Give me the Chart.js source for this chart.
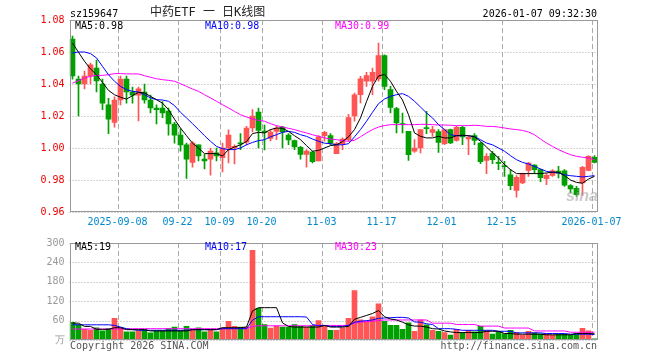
<!DOCTYPE html>
<html>
<head>
<meta charset="utf-8">
<script src="https://cdn.jsdelivr.net/npm/chart.js@4/dist/chart.umd.min.js"></script>
<style>
body { margin: 0; background: #fff; }
#wrap { position: relative; width: 660px; height: 360px; overflow: hidden; font-family: "DejaVu Sans Mono", monospace; font-size: 10px; }
#wrap .t { position: absolute; white-space: nowrap; line-height: 12px; }
canvas { position: absolute; left: 0; }
</style>
</head>
<body>
<div id="wrap">
  <canvas id="kline" width="660" height="232" style="top:0"></canvas>
  <canvas id="vol" width="660" height="128" style="top:232px"></canvas>
  <div class="t" style="left:70px;top:8px;color:#000">sz159647</div>
  <div class="t" style="left:150px;top:5px;font-size:12px;line-height:14px;color:#222;font-family:'DejaVu Sans Mono','Noto Sans CJK SC',monospace">中药ETF 一 日K线图</div>
  <div class="t" style="right:63px;top:8px;color:#000">2026-01-07 09:32:30</div>
  <div class="t" style="left:75px;top:19.5px;color:#000">MA5:0.98</div>
  <div class="t" style="left:205px;top:19.5px;color:#0000ff">MA10:0.98</div>
  <div class="t" style="left:335px;top:19.5px;color:#ff00ff">MA30:0.99</div>
  <div class="t" style="left:75px;top:240.5px;color:#000">MA5:19</div>
  <div class="t" style="left:205px;top:240.5px;color:#0000ff">MA10:17</div>
  <div class="t" style="left:335px;top:240.5px;color:#ff00ff">MA30:23</div>
  <div class="t" style="left:70px;top:339.5px;color:#555">Copyright 2026 SINA.COM</div>
  <div class="t" style="right:63px;top:339.5px;color:#555">http://finance.sina.com.cn</div>
  <div class="t" style="left:566px;top:187px;font:italic bold 16px 'Liberation Sans',sans-serif;line-height:18px;color:rgba(160,160,160,0.55)">sina</div>
</div>
<script>
// trading days shown
var dates = [
  '2025-08-27','2025-08-28','2025-08-29',
  '2025-09-01','2025-09-02','2025-09-03','2025-09-04','2025-09-05',
  '2025-09-08','2025-09-09','2025-09-10','2025-09-11','2025-09-12',
  '2025-09-15','2025-09-16','2025-09-17','2025-09-18','2025-09-19',
  '2025-09-22','2025-09-23','2025-09-24','2025-09-25','2025-09-26',
  '2025-09-29','2025-09-30',
  '2025-10-09','2025-10-10',
  '2025-10-13','2025-10-14','2025-10-15','2025-10-16','2025-10-17',
  '2025-10-20','2025-10-21','2025-10-22','2025-10-23','2025-10-24',
  '2025-10-27','2025-10-28','2025-10-29','2025-10-30','2025-10-31',
  '2025-11-03','2025-11-04','2025-11-05','2025-11-06','2025-11-07',
  '2025-11-10','2025-11-11','2025-11-12','2025-11-13','2025-11-14',
  '2025-11-17','2025-11-18','2025-11-19','2025-11-20','2025-11-21',
  '2025-11-24','2025-11-25','2025-11-26','2025-11-27','2025-11-28',
  '2025-12-01','2025-12-02','2025-12-03','2025-12-04','2025-12-05',
  '2025-12-08','2025-12-09','2025-12-10','2025-12-11','2025-12-12',
  '2025-12-15','2025-12-16','2025-12-17','2025-12-18','2025-12-19',
  '2025-12-22','2025-12-23','2025-12-24','2025-12-25','2025-12-26',
  '2025-12-29','2025-12-30','2025-12-31',
  '2026-01-05','2026-01-06','2026-01-07'
];
var tickDates = ['2025-09-08','2025-09-22','2025-10-09','2025-10-20','2025-11-03','2025-11-17','2025-12-01','2025-12-15','2026-01-07'];
var tickLabels = ['2025-09-08','09-22','10-09','10-20','11-03','11-17','12-01','12-15','2026-01-07'];

var openP = [
  1.068,1.043,1.040,1.045,1.050,1.040,1.027,1.016,1.030,1.043,
  1.035,1.033,1.035,1.030,1.025,1.025,1.023,1.015,1.008,1.002,
  0.991,1.002,0.993,0.993,0.997,0.994,1.000,1.000,1.0033,1.0037,
  1.0125,1.0225,1.0105,1.006,1.0104,1.013,1.008,1.0046,1.0004,0.996,
  0.9975,0.992,1.0077,1.0077,0.9965,1.0025,1.0052,1.020,1.0333,1.0417,
  1.0417,1.0431,1.0577,1.0365,1.0246,1.0148,1.0104,0.998,1.000,1.0125,
  1.0098,1.0102,1.0027,1.0115,1.0048,1.0129,1.0056,1.0077,1.0031,0.9923,
  0.9965,0.9908,0.9887,0.9833,0.9735,0.9781,0.986,0.9894,0.9865,0.9808,
  0.9829,0.9856,0.9858,0.9765,0.9748,0.9781,0.986,0.9942
];
var highP = [
  1.070,1.045,1.048,1.053,1.055,1.043,1.031,1.032,1.045,1.045,
  1.038,1.038,1.040,1.033,1.027,1.029,1.025,1.016,1.012,1.003,
  1.004,1.002,0.996,1.000,1.000,1.003,1.0113,1.002,1.009,1.0135,
  1.024,1.025,1.0144,1.0115,1.014,1.0135,1.009,1.005,1.001,0.999,
  0.998,1.0077,1.0104,1.009,1.0035,1.0063,1.021,1.0344,1.0448,1.0473,
  1.050,1.0656,1.0583,1.0385,1.0254,1.0219,1.0104,1.0052,1.0115,1.0229,
  1.0135,1.0115,1.0119,1.0119,1.0135,1.0135,1.0073,1.009,1.0035,0.9965,
  0.9979,0.9948,0.9917,0.9865,0.9827,0.9844,0.991,0.9896,0.9869,0.984,
  0.9865,0.9885,0.9865,0.9771,0.976,0.9885,0.9952,0.9952
];
var lowP = [
  1.043,1.020,1.037,1.040,1.035,1.024,1.009,1.013,1.027,1.028,
  1.028,1.017,1.028,1.022,1.015,1.019,1.008,1.003,0.998,0.981,
  0.988,0.992,0.987,0.983,0.992,0.985,0.9906,0.990,0.999,1.002,
  1.010,1.000,0.9988,1.0045,1.0052,1.000,1.0021,0.999,0.993,0.988,
  0.9906,0.992,1.0042,1.002,0.9965,0.999,1.0042,1.0167,1.0281,1.0385,
  1.0333,1.0417,1.0365,1.0219,1.0094,1.0094,0.9923,0.9973,0.9969,1.009,
  1.0073,0.9973,1.0021,1.0027,1.0042,1.0021,0.9958,1.0021,0.9902,0.984,
  0.9902,0.9865,0.9823,0.974,0.9692,0.9777,0.9823,0.984,0.979,0.9771,
  0.9823,0.9813,0.976,0.9719,0.9698,0.9704,0.9856,0.9906
];
var closeP = [
  1.045,1.040,1.045,1.052,1.042,1.028,1.018,1.030,1.043,1.035,
  1.033,1.037,1.030,1.025,1.024,1.022,1.015,1.008,1.002,0.993,
  1.003,0.995,0.992,0.998,0.995,1.000,1.008,1.001,1.0025,1.0125,
  1.020,1.011,1.0098,1.010,1.0125,1.010,1.005,1.0006,0.996,0.998,
  0.9915,1.007,1.0098,1.003,1.0027,1.0056,1.019,1.0333,1.0433,1.0452,
  1.0473,1.0577,1.0385,1.0254,1.0156,1.0146,0.9958,1.000,1.0115,1.0121,
  1.0115,1.0035,1.0115,1.0031,1.0129,1.0069,1.0067,1.0048,0.9915,0.9948,
  0.9927,0.9904,0.9883,0.9765,0.9817,0.984,0.9906,0.9865,0.9815,0.9829,
  0.9858,0.9842,0.9767,0.9744,0.9708,0.9879,0.9948,0.991
];
var ma5 = [
  1.0656,1.0598,1.0542,1.0494,1.0458,1.041,1.036,1.0333,1.0317,1.0306,
  1.0327,1.0348,1.0344,1.0323,1.0302,1.028,1.024,1.018,1.0125,1.0077,
  1.003,1.000,0.9965,0.9965,0.9965,0.995,0.999,1.0006,1.002,1.004,
  1.009,1.0098,1.0094,1.0115,1.0125,1.0123,1.0104,1.0077,1.0052,1.0015,
  0.998,0.9985,1.000,1.0015,1.002,1.004,1.007,1.0115,1.0188,1.029,
  1.0385,1.045,1.046,1.0417,1.0354,1.030,1.0208,1.0094,1.0073,1.0063,
  1.0063,1.0073,1.0063,1.0063,1.0077,1.008,1.0077,1.007,1.0042,1.0006,
  0.997,0.9938,0.9896,0.9865,0.984,0.984,0.984,0.984,0.984,0.9844,
  0.985,0.9848,0.9827,0.980,0.9785,0.978,0.9806,0.9823
];
var ma10 = [
  1.0594,1.06,1.06,1.059,1.0563,1.051,1.0458,1.0417,1.0385,1.0365,
  1.0354,1.035,1.0333,1.0313,1.0302,1.030,1.0292,1.0265,1.0223,1.0188,
  1.0152,1.0115,1.0077,1.0042,1.001,0.9996,0.999,0.999,1.000,1.002,
  1.0035,1.0046,1.0052,1.007,1.0083,1.0098,1.0104,1.0098,1.0083,1.0073,
  1.0056,1.0042,1.003,1.0027,1.002,1.002,1.0027,1.007,1.0115,1.0167,
  1.0223,1.0277,1.0306,1.0323,1.0333,1.034,1.0323,1.0292,1.0256,1.0219,
  1.0188,1.0146,1.0115,1.0083,1.0077,1.0077,1.0077,1.007,1.0052,1.0031,
  1.002,1.000,0.998,0.9952,0.9927,0.991,0.99,0.9885,0.9869,0.9854,
  0.9848,0.9844,0.9833,0.9827,0.9823,0.9819,0.9823,0.9827
];
var ma30 = [
  1.0406,1.042,1.0438,1.0448,1.0454,1.0454,1.0458,1.0465,1.0465,1.0463,
  1.0463,1.0463,1.0452,1.0442,1.0433,1.0427,1.0423,1.0417,1.0402,1.0385,
  1.0369,1.0354,1.0333,1.0313,1.0292,1.0271,1.025,1.0229,1.0208,1.0194,
  1.0181,1.0173,1.0167,1.0152,1.014,1.0131,1.0123,1.0115,1.0104,1.0094,
  1.0083,1.0073,1.0063,1.0056,1.0052,1.0046,1.0042,1.0048,1.007,1.0094,
  1.0115,1.0131,1.014,1.0146,1.0146,1.0146,1.0146,1.0146,1.0148,1.0148,
  1.0146,1.0144,1.0144,1.0142,1.014,1.014,1.014,1.0142,1.014,1.0135,
  1.0135,1.0131,1.0125,1.0119,1.0115,1.011,1.01,1.0083,1.0056,1.0031,
  1.001,0.999,0.9973,0.9958,0.9948,0.9942,0.9938,0.9927
];
// volume, 万手
var volume = [
  55,48,33,30,38,28,35,67,38,25,
  25,28,32,22,28,28,35,40,28,42,
  30,38,25,32,25,38,58,42,40,40,
  277,98,48,37,43,40,40,48,42,40,
  45,60,45,30,30,38,67,153,62,58,
  72,112,58,45,45,33,53,27,62,47,
  30,27,23,15,33,22,30,25,42,28,
  18,25,18,30,23,15,27,22,18,20,
  15,18,18,15,20,36,28,4
];
var volMa5 = [
  52,52,42,42,33,33,33,38,38,32,
  32,32,32,28,28,28,28,28,28,28,
  32,32,32,32,32,38,38,38,38,40,
  90,100,100,100,100,53,42,40,40,40,
  40,40,45,40,40,40,42,64,70,76,
  82,91,72,65,62,55,47,43,43,40,
  35,34,28,25,23,23,23,23,23,27,
  27,27,20,20,18,18,18,18,18,16,
  16,16,16,16,20,20,20,19
];
var volMa10 = [
  47,47,47,47,47,47,47,45,40,35,
  32,30,30,30,30,30,30,30,30,30,
  32,32,32,32,32,35,35,35,35,35,
  61,72,72,72,72,72,72,72,72,71,
  48,44,45,42,42,42,45,55,58,60,
  62,67,68,69,70,70,68,56,55,50,
  48,35,35,35,33,30,30,30,30,30,
  30,27,27,27,22,22,22,22,22,20,
  20,20,20,18,18,18,18,17
];
var volMa30 = [
  34,34,34,34,34,34,34,34,34,34,
  35,35,35,35,35,35,35,35,35,35,
  35,35,35,35,35,35,35,36,36,36,
  42,44,44,44,44,44,44,44,44,44,
  44,45,45,45,45,45,45,52,55,57,
  58,60,62,62,62,62,62,62,62,62,
  52,52,52,52,48,48,48,48,43,43,
  43,43,37,37,37,37,37,28,28,28,
  28,28,28,24,24,24,24,24
];

var upColor = '#ff5555';
var downColor = '#00a000';
var candleColor = openP.map(function (o, i) { return closeP[i] >= o ? upColor : downColor; });
var tickIdx = tickDates.map(function (d) { return dates.indexOf(d); });
var monoFont = { family: 'DejaVu Sans Mono', size: 10 };

// dotted value lines, dashed date lines and the grey frame
var panelGrid = {
  id: 'panelGrid',
  beforeDatasetsDraw: function (chart) {
    var a = chart.chartArea, ctx = chart.ctx;
    var xs = chart.scales.x, ys = chart.scales.y;
    ctx.save();
    ctx.lineWidth = 1;
    ctx.strokeStyle = '#aaa';
    ctx.setLineDash([1, 2]);
    ys.ticks.forEach(function (t) {
      var y = Math.round(ys.getPixelForValue(t.value)) + 0.5;
      ctx.beginPath(); ctx.moveTo(a.left, y); ctx.lineTo(a.right, y); ctx.stroke();
    });
    ctx.setLineDash([5, 3]);
    var half = xs.width / dates.length / 2;
    tickIdx.forEach(function (i) {
      var x = Math.floor(xs.getPixelForValue(i) - half + 0.5) + 0.5;
      ctx.beginPath(); ctx.moveTo(x, a.top); ctx.lineTo(x, a.bottom); ctx.stroke();
    });
    ctx.restore();
  },
  afterDraw: function (chart) {
    var a = chart.chartArea, ctx = chart.ctx;
    var l = Math.round(a.left) + 0.5, t = a.top + 0.5;
    ctx.save();
    ctx.strokeStyle = '#999';
    ctx.lineWidth = 1;
    ctx.strokeRect(l, t, a.right - l, a.bottom - 0.5 - t);
    ctx.restore();
  }
};

function maLine(data, color) {
  return { type: 'line', data: data, borderColor: color, borderWidth: 1, pointRadius: 0, tension: 0, order: 0 };
}

function xScale(showLabels) {
  return {
    offset: true,
    grid: { display: false, drawTicks: false },
    border: { display: false },
    ticks: {
      display: showLabels,
      autoSkip: false,
      maxRotation: 0,
      color: '#0088cc',
      font: monoFont,
      padding: 4,
      labelOffset: -3,
      callback: function (v, i) { var k = tickIdx.indexOf(i); return k >= 0 ? tickLabels[k] : ''; }
    },
    afterFit: function (s) { s.height = 20; }
  };
}

var baseOptions = {
  responsive: false,
  animation: false,
  devicePixelRatio: 1,
  events: [],
  plugins: { legend: { display: false }, tooltip: { enabled: false } }
};

new Chart(document.getElementById('kline'), {
  type: 'bar',
  data: {
    labels: dates,
    datasets: [
      maLine(ma5, '#000000'),
      maLine(ma10, '#0000ff'),
      maLine(ma30, '#ff00ff'),
      {
        data: openP.map(function (o, i) { return [o, closeP[i]]; }),
        backgroundColor: candleColor, barThickness: 5, minBarLength: 1, grouped: false, order: 1
      },
      {
        data: lowP.map(function (l, i) { return [l, highP[i]]; }),
        backgroundColor: candleColor, barThickness: 1, grouped: false, order: 2
      }
    ]
  },
  options: Object.assign({}, baseOptions, {
    layout: { padding: { top: 20, right: 62.5, left: 0, bottom: 0 } },
    scales: {
      x: xScale(true),
      y: {
        min: 0.96, max: 1.08,
        grid: { display: false, drawTicks: false },
        border: { display: false },
        ticks: { stepSize: 0.02, color: '#ee0000', font: monoFont, padding: 5,
          callback: function (v) { return v.toFixed(2); } },
        afterFit: function (s) { s.width = 69.5; }
      }
    }
  }),
  plugins: [panelGrid]
});

new Chart(document.getElementById('vol'), {
  type: 'bar',
  data: {
    labels: dates,
    datasets: [
      maLine(volMa5, '#000000'),
      maLine(volMa10, '#0000ff'),
      maLine(volMa30, '#ff00ff'),
      { data: volume, backgroundColor: candleColor, barThickness: 5, order: 1 }
    ]
  },
  options: Object.assign({}, baseOptions, {
    layout: { padding: { top: 8, right: 62.5, left: 0, bottom: 0 } },
    scales: {
      x: xScale(false),
      y: {
        min: 0, max: 300,
        grid: { display: false, drawTicks: false },
        border: { display: false },
        ticks: { stepSize: 60, color: '#999', font: monoFont, padding: 5,
          callback: function (v) { return v === 0 ? '万' : v; } },
        afterFit: function (s) { s.width = 69.5; }
      }
    }
  }),
  plugins: [panelGrid]
});
</script>
</body>
</html>
